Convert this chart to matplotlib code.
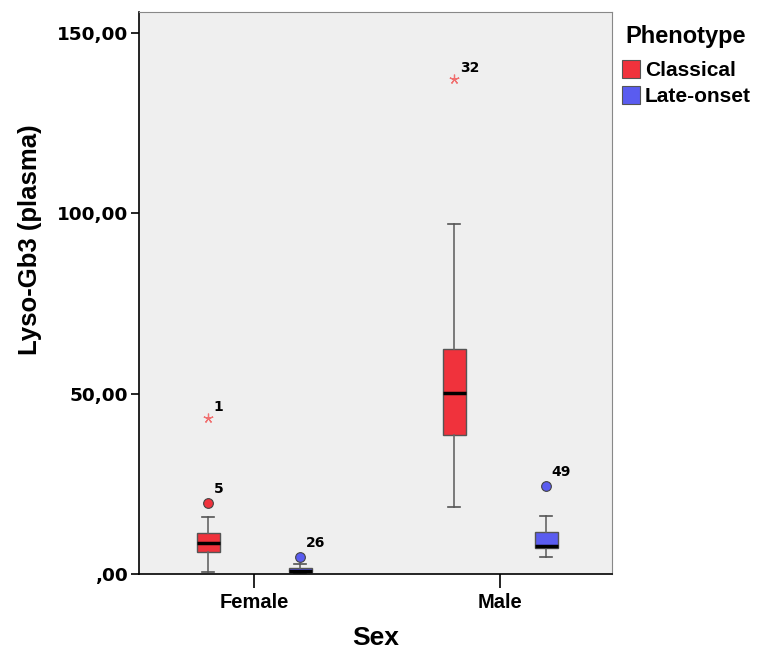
import matplotlib
matplotlib.use("Agg")
import matplotlib.pyplot as plt
from matplotlib.patches import Rectangle

plt.rcParams['font.family'] = ['Liberation Sans', 'DejaVu Sans']

sexes = ["Female", "Male"]
phenotypes = ["Classical", "Late-onset"]
colors = ["#F0323C", "#5A5CF0"]

# stats per (sex, phenotype): whislo, q1, med, q3, whishi
stats = {
    ("Female", "Classical"): [0.5, 6.2, 8.7, 11.5, 15.9],
    ("Female", "Late-onset"): [0.2, 0.5, 0.8, 1.7, 2.9],
    ("Male", "Classical"): [18.7, 38.5, 50.3, 62.3, 97.0],
    ("Male", "Late-onset"): [4.8, 7.1, 7.8, 11.7, 16.1],
}
# outliers (circles): (sex, phenotype, value, case label)
outliers = [("Female", "Classical", 19.8, "5"),
            ("Female", "Late-onset", 4.8, "26"),
            ("Male", "Late-onset", 24.5, "49")]
# extremes (stars)
extremes = [("Female", "Classical", 43.2, "1"),
            ("Male", "Classical", 137.2, "32")]

yticks = [0, 50, 100, 150]
ytick_labels = [",00", "50,00", "100,00", "150,00"]

W, H = 758, 652
fig = plt.figure(figsize=(W / 100, H / 100), dpi=100)
ax = fig.add_axes([139 / W, 78 / H, 473 / W, 562 / H])
ax.set_facecolor("#EFEFEF")

offset = 0.187
width = 0.093

def pos(sex, ph):
    return sexes.index(sex) + (-offset if ph == "Classical" else offset)

for (sex, ph), (lo, q1, med, q3, hi) in stats.items():
    p = pos(sex, ph)
    c = colors[phenotypes.index(ph)]
    ax.bxp([dict(whislo=lo, q1=q1, med=med, q3=q3, whishi=hi, fliers=[])],
           positions=[p], widths=width, patch_artist=True, showfliers=False,
           boxprops=dict(facecolor=c, edgecolor="#555555", linewidth=1.0),
           medianprops=dict(color="black", linewidth=2.5),
           whiskerprops=dict(color="#666666", linewidth=1.2),
           capprops=dict(color="#555555", linewidth=1.2),
           capwidths=width * 0.55)

lab_font = dict(family="DejaVu Sans", fontsize=10, fontweight="bold")

for sex, ph, v, lab in outliers:
    p = pos(sex, ph)
    c = colors[phenotypes.index(ph)]
    ax.plot([p], [v], 'o', markersize=7, markerfacecolor=c, markeredgecolor="#444444",
            markeredgewidth=0.8, zorder=5)
    ax.annotate(lab, (p, v), xytext=(4, 5), textcoords="offset points",
                ha="left", va="bottom", **lab_font)

for sex, ph, v, lab in extremes:
    p = pos(sex, ph)
    ax.plot([p], [v], marker=(5, 2, 0), markersize=7, color="#F07070",
            markeredgewidth=0.9, zorder=5)
    ax.annotate(lab, (p, v), xytext=(4, 3), textcoords="offset points",
                ha="left", va="bottom", **lab_font)

ax.set_xlim(-0.468, 1.455)
ax.set_ylim(0, 155.8)
ax.set_xticks([0, 1])
ax.set_xticklabels(sexes, fontsize=14.5, fontweight="bold")
ax.set_yticks(yticks)
ax.set_yticklabels(ytick_labels, family="DejaVu Sans", fontsize=13.3, fontweight="bold")
ax.tick_params(axis='y', length=6, width=1.2, pad=2)
ax.tick_params(axis='x', length=10, width=1.2, pad=4)
for s in ["top", "right"]:
    ax.spines[s].set_color("#888888")
    ax.spines[s].set_linewidth(0.8)
for s in ["left", "bottom"]:
    ax.spines[s].set_color("black")
    ax.spines[s].set_linewidth(1.2)

ax.set_xlabel("Sex", fontsize=19, fontweight="bold", labelpad=10)
ax.set_ylabel("Lyso-Gb3 (plasma)", fontsize=18.5, fontweight="bold")
ax.yaxis.set_label_coords((42 - 139) / 473, (574 - 240) / 562)

# legend (drawn manually in figure pixel coordinates)
fig.text(625 / W, 1 - 36 / H, "Phenotype", fontsize=17, fontweight="bold",
         ha="left", va="center")
for i, (c, l) in enumerate(zip(colors, phenotypes)):
    top = 60 + i * 26
    fig.patches.append(Rectangle((622 / W, 1 - (top + 18) / H), 18 / W, 18 / H,
                                 facecolor=c, edgecolor="#555555", linewidth=0.8,
                                 transform=fig.transFigure, figure=fig))
    fig.text(645 / W, 1 - (top + 10) / H, l, fontsize=15, fontweight="bold",
             ha="left", va="center")

fig.savefig("out.png", dpi=100)
